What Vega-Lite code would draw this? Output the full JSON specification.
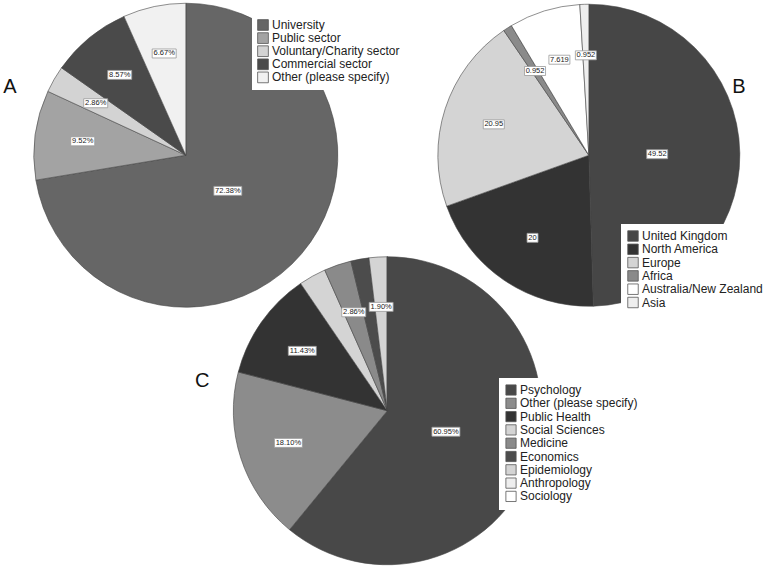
{
  "$schema": "https://vega.github.io/schema/vega-lite/v6.json",
  "width": 771,
  "height": 566,
  "autosize": "none",
  "padding": 0,
  "background": "white",
  "config": {"view": {"stroke": null}, "text": {"font": "Liberation Sans"}},
  "datasets": {
    "pieA": [
      {"idx": 1, "cat": "University", "value": 72.38, "label": "72.38%"},
      {"idx": 2, "cat": "Public sector", "value": 9.52, "label": "9.52%"},
      {"idx": 3, "cat": "Voluntary/Charity sector", "value": 2.86, "label": "2.86%"},
      {"idx": 4, "cat": "Commercial sector", "value": 8.57, "label": "8.57%"},
      {"idx": 5, "cat": "Other (please specify)", "value": 6.67, "label": "6.67%"}
    ],
    "pieB": [
      {"idx": 1, "cat": "United Kingdom", "value": 49.52, "label": "49.52"},
      {"idx": 2, "cat": "North America", "value": 20, "label": "20"},
      {"idx": 3, "cat": "Europe", "value": 20.95, "label": "20.95"},
      {"idx": 4, "cat": "Africa", "value": 0.952, "label": "0.952"},
      {"idx": 5, "cat": "Australia/New Zealand", "value": 7.619, "label": "7.619"},
      {"idx": 6, "cat": "Asia", "value": 0.952, "label": "0.952"}
    ],
    "pieC": [
      {"idx": 1, "cat": "Psychology", "value": 60.95, "label": "60.95%"},
      {"idx": 2, "cat": "Other (please specify)", "value": 18.10, "label": "18.10%"},
      {"idx": 3, "cat": "Public Health", "value": 11.43, "label": "11.43%"},
      {"idx": 4, "cat": "Social Sciences", "value": 2.86, "label": ""},
      {"idx": 5, "cat": "Medicine", "value": 2.86, "label": "2.86%"},
      {"idx": 6, "cat": "Economics", "value": 1.90, "label": ""},
      {"idx": 7, "cat": "Epidemiology", "value": 1.90, "label": "1.90%"},
      {"idx": 8, "cat": "Anthropology", "value": 0, "label": ""},
      {"idx": 9, "cat": "Sociology", "value": 0, "label": ""}
    ]
  },
  "resolve": {"scale": {"color": "independent", "theta": "independent"}},
  "layer": [
    {
      "data": {"name": "pieA"},
      "transform": [
        {"window": [{"op": "sum", "field": "value", "as": "cum"}], "sort": [{"field": "idx"}], "frame": [null, 0]},
        {"joinaggregate": [{"op": "sum", "field": "value", "as": "total"}]},
        {"calculate": "2*PI*(datum.cum - datum.value/2)/datum.total", "as": "ang"},
        {"calculate": "datum.value > 40 ? 0.54 : 1.02", "as": "rf"},
        {"calculate": "sin(datum.ang)*datum.rf", "as": "ox"},
        {"calculate": "-cos(datum.ang)*datum.rf", "as": "oy"},
        {"calculate": "length(datum.label) + (indexof(datum.label, '%') >= 0 ? 'p' : '')", "as": "bw"}
      ],
      "encoding": {
        "x": {"datum": "A", "type": "nominal", "scale": {"type": "point", "domain": ["A", "C", "B"], "padding": 0.913, "align": 0.505}, "axis": null},
        "y": {"datum": "top", "type": "nominal", "scale": {"type": "point", "domain": ["top", "bottom"], "padding": 0.6076}, "axis": null}
      },
      "layer": [
        {
          "mark": {"type": "arc", "radius": 152, "stroke": "#444", "strokeWidth": 0.6},
          "encoding": {
            "theta": {"field": "value", "type": "quantitative", "stack": true},
            "order": {"field": "idx", "type": "quantitative"},
            "color": {"field": "cat", "type": "nominal",
              "scale": {"domain": ["University", "Public sector", "Voluntary/Charity sector", "Commercial sector", "Other (please specify)"],
                        "range": ["#666666", "#a3a3a3", "#d3d3d3", "#4a4a4a", "#f1f1f1"]},
              "legend": {"title": null, "orient": "none", "legendX": 252, "legendY": 14, "padding": 5, "fillColor": "white", "symbolType": "square", "symbolSize": 115, "symbolStrokeColor": "#555", "symbolStrokeWidth": 0.8, "labelFont": "Liberation Sans", "labelFontSize": 12, "labelColor": "#222", "labelOffset": 3, "rowPadding": -0.9, "labelLimit": 300}}
          }
        },
        {
          "transform": [{"filter": "datum.label != ''"}],
          "mark": {"type": "point", "filled": true, "fill": "white", "stroke": "#999", "strokeWidth": 0.8, "size": 4, "opacity": 1},
          "encoding": {
            "xOffset": {"field": "ox", "type": "quantitative", "scale": {"domain": [-1, 1], "range": [-102, 102]}},
            "yOffset": {"field": "oy", "type": "quantitative", "scale": {"domain": [-1, 1], "range": [-102, 102]}},
            "shape": {"field": "bw", "type": "nominal", "legend": null,
              "scale": {"domain": ["2", "5", "5p", "6p"], "range": ["M-5.5,-4.5H5.5V4.5H-5.5Z", "M-10.5,-4.5H10.5V4.5H-10.5Z", "M-12,-4.5H12V4.5H-12Z", "M-14,-4.5H14V4.5H-14Z"]}}
          }
        },
        {
          "mark": {"type": "text", "fontSize": 7.5, "fill": "#222"},
          "encoding": {
            "xOffset": {"field": "ox", "type": "quantitative", "scale": {"domain": [-1, 1], "range": [-102, 102]}},
            "yOffset": {"field": "oy", "type": "quantitative", "scale": {"domain": [-1, 1], "range": [-102, 102]}},
            "text": {"field": "label"}
          }
        }
      ]
    },
    {
      "data": {"name": "pieB"},
      "transform": [
        {"window": [{"op": "sum", "field": "value", "as": "cum"}], "sort": [{"field": "idx"}], "frame": [null, 0]},
        {"joinaggregate": [{"op": "sum", "field": "value", "as": "total"}]},
        {"calculate": "2*PI*(datum.cum - datum.value/2)/datum.total", "as": "ang"},
        {"calculate": "datum.value > 40 ? 0.67 : 0.98", "as": "rf"},
        {"calculate": "sin(datum.ang)*datum.rf", "as": "ox"},
        {"calculate": "-cos(datum.ang)*datum.rf", "as": "oy"},
        {"calculate": "length(datum.label) + (indexof(datum.label, '%') >= 0 ? 'p' : '')", "as": "bw"}
      ],
      "encoding": {
        "x": {"datum": "B", "type": "nominal", "scale": {"type": "point", "domain": ["A", "C", "B"], "padding": 0.913, "align": 0.505}, "axis": null},
        "y": {"datum": "top", "type": "nominal", "scale": {"type": "point", "domain": ["top", "bottom"], "padding": 0.6076}, "axis": null}
      },
      "layer": [
        {
          "mark": {"type": "arc", "radius": 151, "stroke": "#444", "strokeWidth": 0.6},
          "encoding": {
            "theta": {"field": "value", "type": "quantitative", "stack": true},
            "order": {"field": "idx", "type": "quantitative"},
            "color": {"field": "cat", "type": "nominal",
              "scale": {"domain": ["United Kingdom", "North America", "Europe", "Africa", "Australia/New Zealand", "Asia"],
                        "range": ["#464646", "#333333", "#d4d4d4", "#8a8a8a", "#ffffff", "#eeeeee"]},
              "legend": {"title": null, "orient": "none", "legendX": 621, "legendY": 224, "padding": 6, "fillColor": "white", "symbolType": "square", "symbolSize": 110, "symbolStrokeColor": "#555", "symbolStrokeWidth": 0.8, "labelFont": "Liberation Sans", "labelFontSize": 12, "labelColor": "#222", "labelOffset": 3, "rowPadding": -0.7, "labelLimit": 300}}
          }
        },
        {
          "transform": [{"filter": "datum.label != ''"}],
          "mark": {"type": "point", "filled": true, "fill": "white", "stroke": "#999", "strokeWidth": 0.8, "size": 4, "opacity": 1},
          "encoding": {
            "xOffset": {"field": "ox", "type": "quantitative", "scale": {"domain": [-1, 1], "range": [-102, 102]}},
            "yOffset": {"field": "oy", "type": "quantitative", "scale": {"domain": [-1, 1], "range": [-102, 102]}},
            "shape": {"field": "bw", "type": "nominal", "legend": null,
              "scale": {"domain": ["2", "5", "5p", "6p"], "range": ["M-5.5,-4.5H5.5V4.5H-5.5Z", "M-10.5,-4.5H10.5V4.5H-10.5Z", "M-12,-4.5H12V4.5H-12Z", "M-14,-4.5H14V4.5H-14Z"]}}
          }
        },
        {
          "mark": {"type": "text", "fontSize": 7.5, "fill": "#222"},
          "encoding": {
            "xOffset": {"field": "ox", "type": "quantitative", "scale": {"domain": [-1, 1], "range": [-102, 102]}},
            "yOffset": {"field": "oy", "type": "quantitative", "scale": {"domain": [-1, 1], "range": [-102, 102]}},
            "text": {"field": "label"}
          }
        }
      ]
    },
    {
      "data": {"name": "pieC"},
      "transform": [
        {"window": [{"op": "sum", "field": "value", "as": "cum"}], "sort": [{"field": "idx"}], "frame": [null, 0]},
        {"joinaggregate": [{"op": "sum", "field": "value", "as": "total"}]},
        {"calculate": "2*PI*(datum.cum - datum.value/2)/datum.total", "as": "ang"},
        {"calculate": "datum.value > 40 ? 0.61 : 1.02", "as": "rf"},
        {"calculate": "sin(datum.ang)*datum.rf", "as": "ox"},
        {"calculate": "-cos(datum.ang)*datum.rf", "as": "oy"},
        {"calculate": "length(datum.label) + (indexof(datum.label, '%') >= 0 ? 'p' : '')", "as": "bw"}
      ],
      "encoding": {
        "x": {"datum": "C", "type": "nominal", "scale": {"type": "point", "domain": ["A", "C", "B"], "padding": 0.913, "align": 0.505}, "axis": null},
        "y": {"datum": "bottom", "type": "nominal", "scale": {"type": "point", "domain": ["top", "bottom"], "padding": 0.6076}, "axis": null}
      },
      "layer": [
        {
          "mark": {"type": "arc", "radius": 154, "stroke": "#444", "strokeWidth": 0.6},
          "encoding": {
            "theta": {"field": "value", "type": "quantitative", "stack": true},
            "order": {"field": "idx", "type": "quantitative"},
            "color": {"field": "cat", "type": "nominal",
              "scale": {"domain": ["Psychology", "Other (please specify)", "Public Health", "Social Sciences", "Medicine", "Economics", "Epidemiology", "Anthropology", "Sociology"],
                        "range": ["#484848", "#8c8c8c", "#333333", "#d4d4d4", "#8a8a8a", "#4c4c4c", "#d4d4d4", "#eeeeee", "#ffffff"]},
              "legend": {"title": null, "orient": "none", "legendX": 499, "legendY": 378, "padding": 6, "fillColor": "white", "symbolType": "square", "symbolSize": 105, "symbolStrokeColor": "#555", "symbolStrokeWidth": 0.8, "labelFont": "Liberation Sans", "labelFontSize": 12, "labelColor": "#222", "labelOffset": 3, "rowPadding": -0.7, "labelLimit": 300}}
          }
        },
        {
          "transform": [{"filter": "datum.label != ''"}],
          "mark": {"type": "point", "filled": true, "fill": "white", "stroke": "#999", "strokeWidth": 0.8, "size": 4, "opacity": 1},
          "encoding": {
            "xOffset": {"field": "ox", "type": "quantitative", "scale": {"domain": [-1, 1], "range": [-102, 102]}},
            "yOffset": {"field": "oy", "type": "quantitative", "scale": {"domain": [-1, 1], "range": [-102, 102]}},
            "shape": {"field": "bw", "type": "nominal", "legend": null,
              "scale": {"domain": ["2", "5", "5p", "6p"], "range": ["M-5.5,-4.5H5.5V4.5H-5.5Z", "M-10.5,-4.5H10.5V4.5H-10.5Z", "M-12,-4.5H12V4.5H-12Z", "M-14,-4.5H14V4.5H-14Z"]}}
          }
        },
        {
          "mark": {"type": "text", "fontSize": 7.5, "fill": "#222"},
          "encoding": {
            "xOffset": {"field": "ox", "type": "quantitative", "scale": {"domain": [-1, 1], "range": [-102, 102]}},
            "yOffset": {"field": "oy", "type": "quantitative", "scale": {"domain": [-1, 1], "range": [-102, 102]}},
            "text": {"field": "label"}
          }
        }
      ]
    },
    {
      "data": {"values": [{"letter": "A"}]},
      "mark": {"type": "text", "fontSize": 20, "fill": "#111", "dx": -176, "dy": -68},
      "encoding": {
        "x": {"datum": "A", "type": "nominal", "scale": {"type": "point", "domain": ["A", "C", "B"], "padding": 0.913, "align": 0.505}, "axis": null},
        "y": {"datum": "top", "type": "nominal", "scale": {"type": "point", "domain": ["top", "bottom"], "padding": 0.6076}, "axis": null},
        "text": {"field": "letter"}
      }
    },
    {
      "data": {"values": [{"letter": "B"}]},
      "mark": {"type": "text", "fontSize": 20, "fill": "#111", "dx": 150, "dy": -68},
      "encoding": {
        "x": {"datum": "B", "type": "nominal", "scale": {"type": "point", "domain": ["A", "C", "B"], "padding": 0.913, "align": 0.505}, "axis": null},
        "y": {"datum": "top", "type": "nominal", "scale": {"type": "point", "domain": ["top", "bottom"], "padding": 0.6076}, "axis": null},
        "text": {"field": "letter"}
      }
    },
    {
      "data": {"values": [{"letter": "C"}]},
      "mark": {"type": "text", "fontSize": 20, "fill": "#111", "dx": -185, "dy": -30},
      "encoding": {
        "x": {"datum": "C", "type": "nominal", "scale": {"type": "point", "domain": ["A", "C", "B"], "padding": 0.913, "align": 0.505}, "axis": null},
        "y": {"datum": "bottom", "type": "nominal", "scale": {"type": "point", "domain": ["top", "bottom"], "padding": 0.6076}, "axis": null},
        "text": {"field": "letter"}
      }
    }
  ]
}
